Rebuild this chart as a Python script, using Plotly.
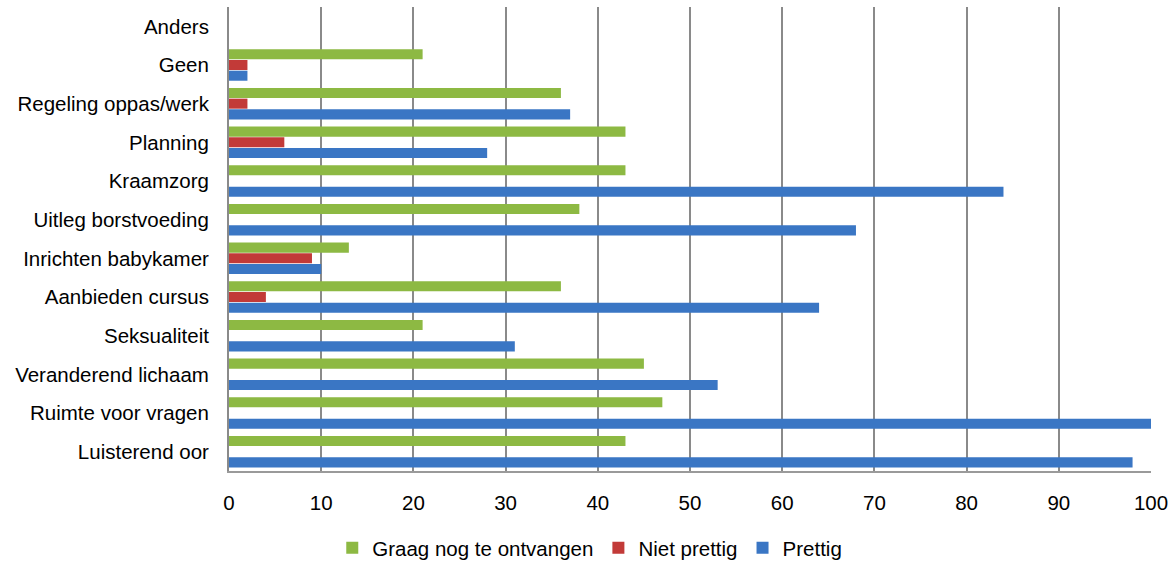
import plotly.graph_objects as go

# categories listed bottom-up (plotly puts the first category at the bottom)
categories = ["Luisterend oor", "Ruimte voor vragen", "Veranderend lichaam", "Seksualiteit",
              "Aanbieden cursus", "Inrichten babykamer", "Uitleg borstvoeding", "Kraamzorg",
              "Planning", "Regeling oppas/werk", "Geen", "Anders"]
prettig = [98, 100, 53, 31, 64, 10, 68, 84, 28, 37, 2, 0]
niet_prettig = [0, 0, 0, 0, 4, 9, 0, 0, 6, 2, 2, 0]
graag = [43, 47, 45, 21, 36, 13, 38, 43, 43, 36, 21, 0]
x_ticks = [0, 10, 20, 30, 40, 50, 60, 70, 80, 90, 100]

FONT = "Liberation Sans, Arial, sans-serif"

fig = go.Figure()
fig.add_trace(go.Bar(y=categories, x=prettig, name="Prettig", orientation="h",
                     marker=dict(color="#3A76C4", line=dict(width=0))))
fig.add_trace(go.Bar(y=categories, x=niet_prettig, name="Niet prettig", orientation="h",
                     marker=dict(color="#C23A38", line=dict(width=0))))
fig.add_trace(go.Bar(y=categories, x=graag, name="Graag nog te ontvangen", orientation="h",
                     marker=dict(color="#8DB943", line=dict(width=0))))

fig.update_layout(
    width=1173, height=562,
    margin=dict(l=229, r=22, t=7, b=91, autoexpand=False),
    paper_bgcolor="white", plot_bgcolor="white",
    barmode="group", bargap=0.17, bargroupgap=0.06,
    font=dict(family=FONT, size=20.5, color="#000000"),
    showlegend=True,
    legend=dict(orientation="h", traceorder="reversed", x=0.112, xanchor="left",
                y=-0.166, yanchor="middle", font=dict(size=20.5, family=FONT),
                tracegroupgap=0, itemclick=False),
    xaxis=dict(range=[0, 100], tickvals=x_ticks, ticktext=[str(v) for v in x_ticks],
               showgrid=True, gridcolor="#8a8a8a", gridwidth=1.5,
               showline=True, linecolor="#9a9a9a", linewidth=2,
               zeroline=False, ticks="", ticklabelstandoff=12,
               tickfont=dict(size=20.5, family=FONT)),
    yaxis=dict(categoryorder="array", categoryarray=categories,
               showgrid=False, showline=True, linecolor="#8a8a8a", linewidth=2,
               ticks="", ticklabelstandoff=14, zeroline=False,
               tickfont=dict(size=20.5, family=FONT)),
)

fig.write_html("out.html")
